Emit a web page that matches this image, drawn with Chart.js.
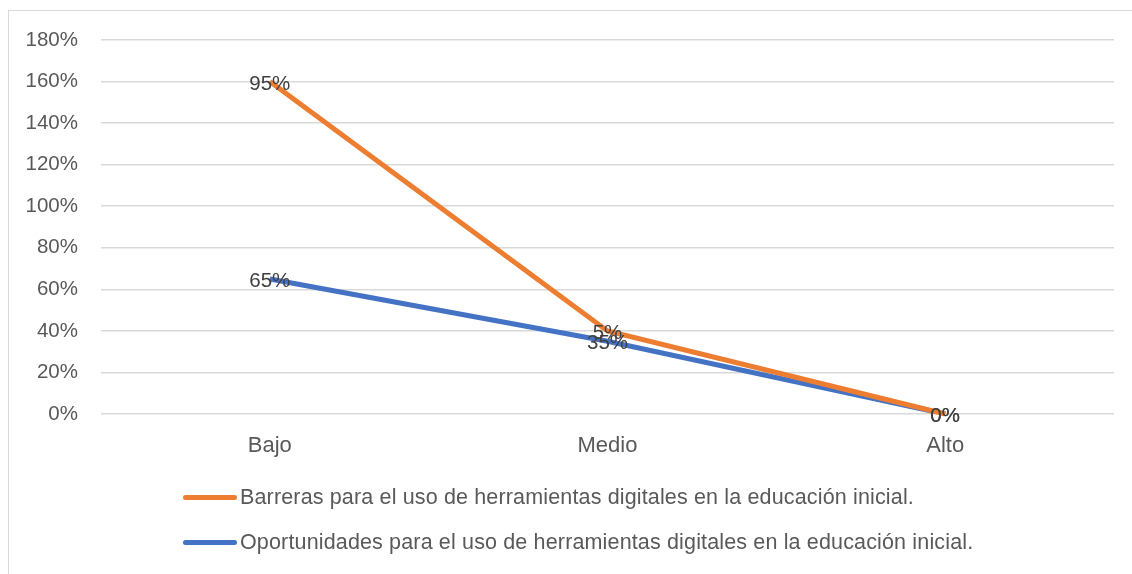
<!DOCTYPE html>
<html>
<head>
<meta charset="utf-8">
<script src="https://cdn.jsdelivr.net/npm/chart.js@4/dist/chart.umd.min.js"></script>
<style>
  html, body { margin: 0; padding: 0; background: #ffffff; overflow: hidden; }
  #frame { position: absolute; left: 8px; top: 10px; width: 1140px; height: 600px; border: 1px solid #d9d9d9; box-sizing: border-box; }
  #wrap { position: absolute; left: 0; top: 0; width: 1132px; height: 574px; }
  .leg { position: absolute; left: 183px; font-family: "Liberation Sans", Arial, sans-serif; font-size: 21.5px; letter-spacing: 0.15px; color: #595959; white-space: nowrap; display: flex; align-items: center; }
  .leg .sw { display: inline-block; width: 54px; height: 5px; border-radius: 3px; margin-right: 3px; }
</style>
</head>
<body>
<div id="frame"></div>
<div id="wrap"><canvas id="c" width="1132" height="574"></canvas></div>
<div class="leg" id="leg1" style="top:485px;"><span class="sw" style="background:#ED7D31"></span><span id="lt1"></span></div>
<div class="leg" id="leg2" style="top:530px;"><span class="sw" style="background:#4472C4"></span><span id="lt2"></span></div>
<script>
const categories = ["Bajo", "Medio", "Alto"];
const barreras = [95, 5, 0];
const oportunidades = [65, 35, 0];
const seriesNames = [
  "Barreras para el uso de herramientas digitales en la educación inicial.",
  "Oportunidades para el uso de herramientas digitales en la educación inicial."
];
const yTicks = [0, 20, 40, 60, 80, 100, 120, 140, 160, 180];

document.getElementById('lt1').textContent = seriesNames[0];
document.getElementById('lt2').textContent = seriesNames[1];

const FONT = "'Liberation Sans', Arial, sans-serif";
const ORANGE_IDX = 1;

const topOrange = {
  id: 'topOrange',
  beforeDatasetDraw(chart, args) {
    if (args.index === ORANGE_IDX && !chart.$drawTop) return false;
  },
  afterDatasetsDraw(chart) {
    chart.$drawTop = true;
    chart.getDatasetMeta(ORANGE_IDX).controller.draw();
    chart.$drawTop = false;
    const ctx = chart.ctx;
    ctx.save();
    ctx.font = "20.5px " + FONT;
    ctx.fillStyle = '#404040';
    ctx.textAlign = 'center';
    ctx.textBaseline = 'middle';
    chart.data.datasets.forEach((ds, di) => {
      const meta = chart.getDatasetMeta(di);
      meta.data.forEach((pt, i) => {
        ctx.fillText(ds.data[i] + '%', pt.x, pt.y + 2.5);
      });
    });
    ctx.restore();
  }
};

new Chart(document.getElementById('c'), {
  type: 'line',
  data: {
    labels: categories,
    datasets: [
      { label: seriesNames[1], data: oportunidades, borderColor: '#4472C4', backgroundColor: '#4472C4', borderWidth: 5, pointRadius: 0, tension: 0, fill: false },
      { label: seriesNames[0], data: barreras, borderColor: '#ED7D31', backgroundColor: '#ED7D31', borderWidth: 5, pointRadius: 0, tension: 0, fill: false }
    ]
  },
  options: {
    responsive: false,
    animation: false,
    events: [],
    layout: { padding: { left: 0, right: 18, top: 40, bottom: 0 } },
    plugins: { legend: { display: false }, tooltip: { enabled: false } },
    scales: {
      x: {
        offset: true,
        grid: { display: false, drawTicks: false },
        border: { display: false },
        ticks: { color: '#595959', font: { family: FONT, size: 22 }, padding: 19 },
        afterFit: s => { s.height = 160; }
      },
      y: {
        stacked: true,
        min: 0, max: 180,
        grid: { color: '#d9d9d9', lineWidth: 1.5, drawTicks: false },
        border: { display: false },
        afterBuildTicks: s => { s.ticks = yTicks.map(v => ({ value: v })); },
        ticks: { color: '#595959', font: { family: FONT, size: 20.5 }, padding: 23, callback: v => v + '%' },
        afterFit: s => { s.width = 101; }
      }
    }
  },
  plugins: [topOrange]
});
</script>
</body>
</html>
